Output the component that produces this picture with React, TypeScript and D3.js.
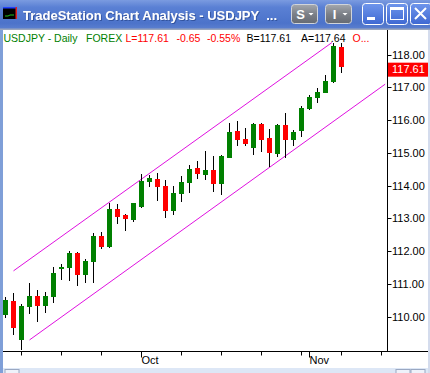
import * as d3 from 'd3'

// USDJPY daily, Sep 8 - Nov 7 2005
const dates = [
  '2005-09-08', '2005-09-09', '2005-09-12', '2005-09-13', '2005-09-14', '2005-09-15', '2005-09-16',
  '2005-09-19', '2005-09-20', '2005-09-21', '2005-09-22', '2005-09-23', '2005-09-26', '2005-09-27',
  '2005-09-28', '2005-09-29', '2005-09-30', '2005-10-03', '2005-10-04', '2005-10-05', '2005-10-06',
  '2005-10-07', '2005-10-10', '2005-10-11', '2005-10-12', '2005-10-13', '2005-10-14', '2005-10-17',
  '2005-10-18', '2005-10-19', '2005-10-20', '2005-10-21', '2005-10-24', '2005-10-25', '2005-10-26',
  '2005-10-27', '2005-10-28', '2005-10-31', '2005-11-01', '2005-11-02', '2005-11-03', '2005-11-04',
  '2005-11-07',
]
const open = [
  110.05, 110.48, 109.30, 110.31, 110.63, 110.33, 110.61, 111.46, 111.50, 111.95, 111.27,
  111.68, 112.46, 112.14, 113.28, 113.11, 112.95, 113.36, 114.12, 114.20, 113.99, 113.24,
  113.74, 114.07, 114.53, 114.33, 114.48, 114.04, 114.85, 115.67, 115.43, 115.14, 115.88,
  115.45, 114.97, 115.85, 115.40, 115.68, 116.34, 116.69, 116.84, 117.18, 118.24,
]
const high = [
  110.59, 110.73, 110.38, 111.04, 110.82, 110.76, 111.53, 111.61, 112.01, 111.98, 111.75,
  112.55, 112.58, 113.48, 113.44, 113.13, 113.48, 114.36, 114.33, 114.38, 114.17, 114.00,
  114.31, 114.63, 114.75, 115.06, 114.91, 114.94, 115.92, 115.98, 115.75, 115.92, 115.91,
  115.73, 115.87, 116.23, 115.70, 116.43, 116.77, 116.97, 117.38, 118.35, 118.35,
]
const low = [
  109.97, 109.44, 108.98, 110.08, 109.85, 110.12, 110.43, 111.12, 111.10, 110.95, 111.04,
  111.04, 112.06, 112.11, 112.84, 112.63, 112.90, 113.33, 113.97, 113.54, 113.00, 113.11,
  113.51, 113.79, 114.20, 114.17, 113.82, 113.72, 114.85, 115.21, 115.21, 114.94, 115.04,
  114.56, 114.89, 114.84, 115.21, 115.50, 116.31, 116.53, 116.82, 117.13, 117.43,
]
const close = [
  110.51, 109.66, 110.33, 110.63, 110.33, 110.63, 111.34, 111.53, 111.95, 111.27, 111.70,
  112.46, 112.14, 113.29, 113.05, 112.98, 113.46, 114.15, 114.23, 113.97, 113.24, 113.79,
  114.10, 114.51, 114.35, 114.48, 114.04, 114.91, 115.65, 115.40, 115.27, 115.88, 115.40,
  114.99, 115.85, 115.40, 115.65, 116.36, 116.70, 116.86, 117.20, 118.26, 117.61,
]
// trend channel drawn on the chart: [bar index, price]
const channelUpper: [number, number][] = [[1, 111.40], [40.8, 118.37]]
const channelLower: [number, number][] = [[3, 109.29], [47.46, 117.10]]

const yTicks = [110, 111, 112, 113, 114, 115, 116, 117, 118]
const weekTicks = [2, 7, 12, 17, 22, 27, 32, 37, 42, 47]
const lastPrice = 117.61

const W = 430
const H = 373
const FONT = '"Liberation Sans", Arial, sans-serif'
const GREEN = '#008000'
const RED = '#ff0000'
const MAGENTA = '#e010e0'

export default function App() {
  const x = d3.scaleLinear().domain([0, 42]).range([5.5, 341.5])
  const y = d3.scaleLinear().domain([110, 118]).range([316.7, 54.7])
  const AXIS_X = 387.5
  const AXIS_Y = 351.5

  const bars = dates.map((d, i) => ({ d, i, o: open[i], h: high[i], l: low[i], c: close[i] }))
  const monthStarts = bars.filter((b, i) => i > 0 && b.d.slice(5, 7) !== dates[i - 1].slice(5, 7))
  const monthName = d3.timeFormat('%b')
  const line = d3.line<[number, number]>().x(p => x(p[0])).y(p => y(p[1]))

  const header = [
    { t: 'USDJPY - Daily', x: 3.5, c: GREEN },
    { t: 'FOREX', x: 86, c: GREEN },
    { t: 'L=117.61', x: 125.5, c: RED },
    { t: '-0.65', x: 176.5, c: RED },
    { t: '-0.55%', x: 207, c: RED },
    { t: 'B=117.61', x: 246.5, c: '#000' },
    { t: 'A=117.64', x: 301, c: '#000' },
    { t: 'O...', x: 352.5, c: RED },
  ]

  return (
    <svg width={W} height={H} style={{ position: 'absolute', left: 0, top: 0, display: 'block' }}>
      <defs>
        <linearGradient id="tb" x1="0" y1="0" x2="0" y2="1">
          <stop offset="0" stopColor="#7b9be0" />
          <stop offset="0.25" stopColor="#5a80d4" />
          <stop offset="0.8" stopColor="#4c73ca" />
          <stop offset="1" stopColor="#5b7fcf" />
        </linearGradient>
        <linearGradient id="gb" x1="0" y1="0" x2="0" y2="1">
          <stop offset="0" stopColor="#a4a8ae" />
          <stop offset="0.5" stopColor="#7c8088" />
          <stop offset="1" stopColor="#656a72" />
        </linearGradient>
        <linearGradient id="bb" x1="0" y1="0" x2="0" y2="1">
          <stop offset="0" stopColor="#6f96ec" />
          <stop offset="1" stopColor="#3e68d2" />
        </linearGradient>
        <filter id="ts" x="-5%" y="-30%" width="110%" height="160%">
          <feDropShadow dx="1" dy="1" stdDeviation="0.3" floodColor="#1c3a80" floodOpacity="0.6" />
        </filter>
      </defs>

      {/* window frame */}
      <rect x={0} y={0} width={W} height={29} fill="url(#tb)" />
      <rect x={0} y={28.5} width={W} height={1.5} fill="#9aa6bd" />
      <rect x={0} y={30} width={3} height={H - 30} fill="#7f9fd8" />
      <rect x={3} y={30} width={425} height={338} fill="#fff" />
      <rect x={428} y={30} width={2} height={H - 30} fill="#d4dced" />
      <rect x={3} y={368} width={425} height={5} fill="#dde7f6" />
      <rect x={5} y={369.5} width={14} height={6} fill="#eef2fa" stroke="#9aa8c2" />
      <rect x={396} y={369.5} width={14} height={6} fill="#eef2fa" stroke="#9aa8c2" />
      <rect x={411} y={369.5} width={14} height={6} fill="#eef2fa" stroke="#9aa8c2" />

      {/* app icon */}
      <rect x={3} y={7} width={14} height={12} fill="#000" />
      <rect x={3} y={7} width={14} height={1.5} fill="#2040ff" />
      <rect x={15.5} y={7} width={1.5} height={12} fill="#e02020" />
      <path d="M5 16 L8 16 L10 15 L14 15" stroke="#20c020" strokeWidth={1} fill="none" />

      <text x={23} y={19.5} fontFamily={FONT} fontWeight="bold" fontSize={13.5}
        fill="#fff" textLength={254} lengthAdjust="spacingAndGlyphs" filter="url(#ts)"
        style={{ whiteSpace: 'pre' }}>
        {'TradeStation Chart Analysis - USDJPY  ...'}
      </text>

      {/* title bar buttons */}
      {[{ l: 'S', x: 291.5 }, { l: 'I', x: 325.5 }].map(b => (
        <g key={b.l}>
          <rect x={b.x} y={4.5} width={26} height={19} rx={3} fill="url(#gb)" stroke="#d0d4da" />
          <text x={b.x + 9} y={19} fontFamily={FONT} fontWeight="bold" fontSize={13} fill="#fff" textAnchor="middle">{b.l}</text>
          <path d={`M${b.x + 17} 13 L${b.x + 22} 13 L${b.x + 19.5} 15.5 Z`} fill="#fff" />
        </g>
      ))}
      <rect x={362.5} y={3.5} width={21} height={21} rx={3} fill="url(#bb)" stroke="#fff" />
      <rect x={367} y={17} width={8} height={3} fill="#fff" />
      <rect x={386.5} y={3.5} width={21} height={21} rx={3} fill="url(#bb)" stroke="#fff" />
      <rect x={390.5} y={7.5} width={13} height={12} fill="none" stroke="#fff" />
      <rect x={390.5} y={7.5} width={13} height={2.5} fill="#fff" />
      <rect x={410.5} y={3.5} width={21} height={21} rx={3} fill="url(#bb)" stroke="#fff" />
      <path d="M415 8 L426 19 M426 8 L415 19" stroke="#fff" strokeWidth={2} />

      {/* header line */}
      {header.map(h => (
        <text key={h.t} x={h.x} y={42} fontFamily={FONT} fontSize={10.5} fill={h.c}>{h.t}</text>
      ))}

      {/* price axis */}
      <line x1={AXIS_X} x2={AXIS_X} y1={30} y2={AXIS_Y} stroke="#000" />
      {yTicks.map(v => (
        <g key={v}>
          <line x1={AXIS_X} x2={AXIS_X + 4} y1={Math.round(y(v)) + 0.5} y2={Math.round(y(v)) + 0.5} stroke="#000" />
          <text x={392} y={y(v) + 4} fontFamily={FONT} fontSize={11} fill="#000">{v.toFixed(2)}</text>
        </g>
      ))}
      <rect x={388} y={y(lastPrice) - 4.8} width={40} height={14} fill={RED} />
      <text x={392} y={y(lastPrice) + 6} fontFamily={FONT} fontSize={11} fill="#fff">{lastPrice.toFixed(2)}</text>

      {/* time axis */}
      <line x1={3} x2={428} y1={AXIS_Y} y2={AXIS_Y} stroke="#000" />
      {weekTicks.map(t => (
        <line key={t} x1={x(t)} x2={x(t)} y1={AXIS_Y} y2={AXIS_Y + 4} stroke="#000" />
      ))}
      {monthStarts.map(b => (
        <g key={b.d}>
          <line x1={x(b.i)} x2={x(b.i)} y1={AXIS_Y} y2={AXIS_Y + 6} stroke="#000" />
          <text x={x(b.i)} y={364} fontFamily={FONT} fontSize={11} fill="#000">
            {monthName(new Date(b.d + 'T12:00:00'))}
          </text>
        </g>
      ))}

      {/* channel */}
      <path d={line(channelUpper) ?? ''} stroke={MAGENTA} strokeWidth={1} fill="none" />
      <path d={line(channelLower) ?? ''} stroke={MAGENTA} strokeWidth={1} fill="none" />

      {/* candles */}
      <g shapeRendering="crispEdges">
        {bars.map(b => {
          const top = y(Math.max(b.o, b.c))
          const bot = y(Math.min(b.o, b.c))
          return (
            <g key={b.d}>
              <line x1={x(b.i)} x2={x(b.i)} y1={y(b.h)} y2={y(b.l)} stroke="#000" />
              <rect x={x(b.i) - 2.5} y={top} width={5} height={Math.max(1, bot - top)}
                fill={b.c >= b.o ? GREEN : RED} />
            </g>
          )
        })}
      </g>
    </svg>
  )
}
